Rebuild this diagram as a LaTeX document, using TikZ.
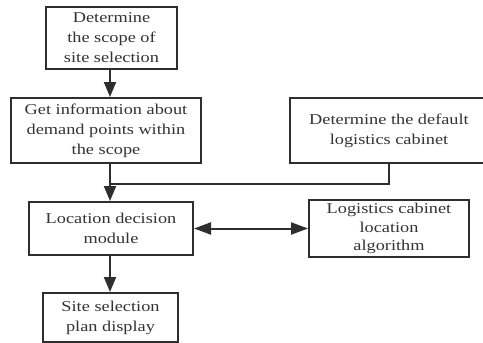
\documentclass[tikz,border=0pt]{standalone}
\usepackage{fontspec}
\setmainfont{Liberation Serif}[FakeStretch=1.22]
\usetikzlibrary{arrows.meta,calc}
\definecolor{ink}{HTML}{2E2E2E}
\definecolor{txt}{HTML}{333333}
\begin{document}
\begin{tikzpicture}[x=1pt,y=-1pt,
  boxnode/.style={draw=ink,line width=2pt,rectangle,inner sep=0pt,align=center,
    text=txt,font=\fontsize{15}{20}\selectfont},
  conn/.style={draw=ink,line width=2pt},
  head/.style={Triangle[length=15pt,width=12pt]},
  tip/.style={-{Triangle[length=15pt,width=12pt]}}]
\useasboundingbox (0,0) rectangle (483,343);
\node[boxnode,minimum width=131pt,minimum height=62pt] (b1) at (111.5,38) {Determine\\the scope of\\site selection};
\node[boxnode,minimum width=190pt,minimum height=65pt] (b2) at (106,130.5) {Get information about\\demand points within\\the scope};
\node[boxnode,minimum width=198pt,minimum height=65pt] (b3) at (389,130.5) {Determine the default\\logistics cabinet};
\node[boxnode,minimum width=164pt,minimum height=53pt] (b4) at (111,228.5) {Location decision\\module};
\node[boxnode,minimum width=160pt,minimum height=57pt,font=\fontsize{15}{18.5}\selectfont] (b5) at (389,228.5) {Logistics cabinet\\location\\algorithm};
\node[boxnode,minimum width=135pt,minimum height=49pt] (b6) at (110.5,317.5) {Site selection\\plan display};
\coordinate (join) at (110,184);
\draw[conn,tip] (b1.south -| join) -- (b2.north -| join);
\draw[conn,tip] (b2.south -| join) -- (b4.north -| join);
\draw[conn] (b3.south) |- (join);
\draw[conn,{Triangle[length=17pt,width=12pt]}-{Triangle[length=17pt,width=12pt]}] (b4.east) -- (b5.west);
\draw[conn,tip] (b4.south -| join) -- (b6.north -| join);
\end{tikzpicture}
\end{document}
